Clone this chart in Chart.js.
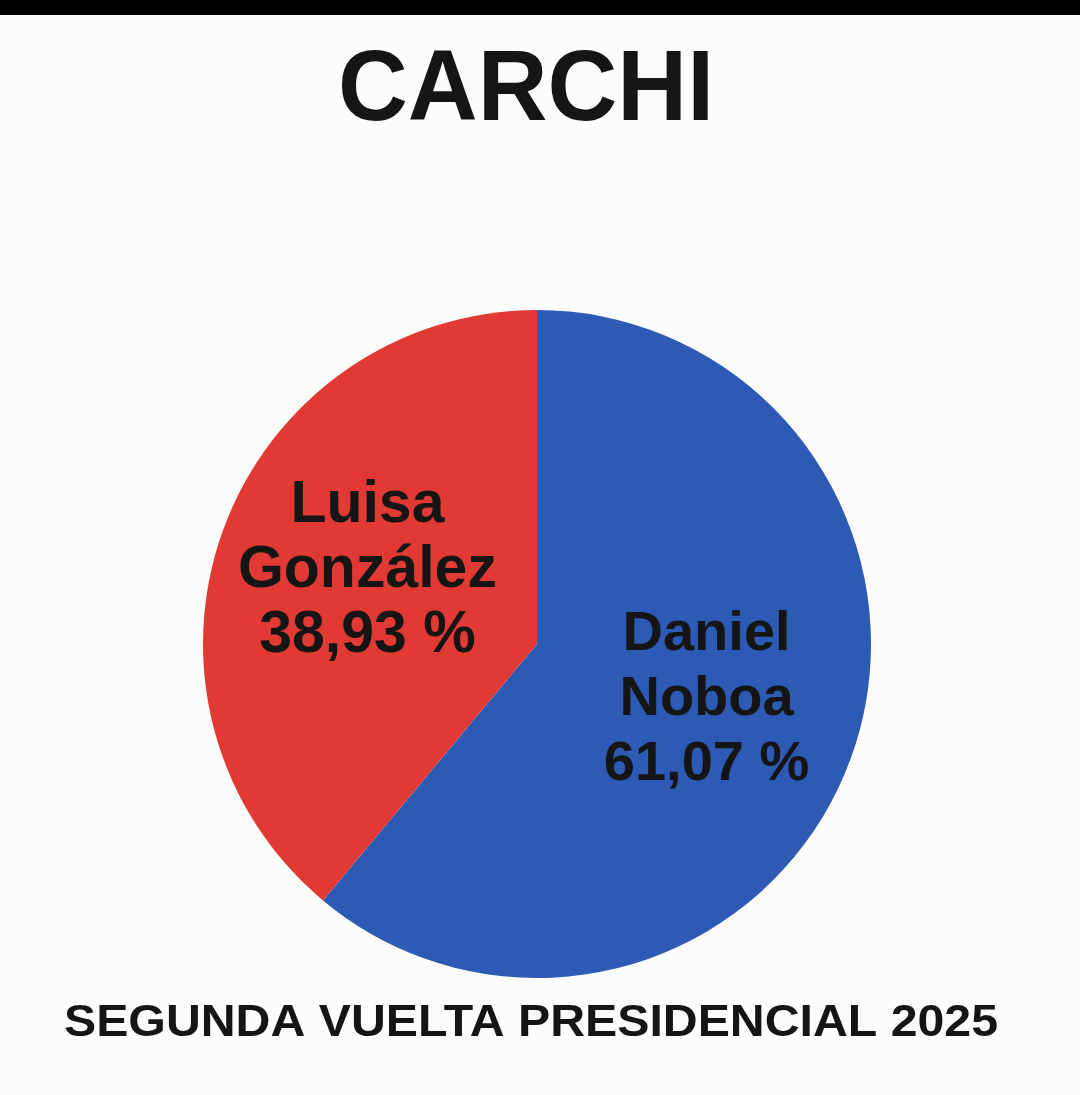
<!DOCTYPE html>
<html>
<head>
<meta charset="utf-8">
<script src="https://cdn.jsdelivr.net/npm/chart.js@4.4.1/dist/chart.umd.min.js"></script>
<style>
  html, body { margin: 0; padding: 0; background: #fcfcfa; }
  #wrap { position: relative; width: 1080px; height: 1095px; }
</style>
</head>
<body>
<div id="wrap"><canvas id="c" width="1080" height="1095"></canvas></div>
<script>
const title = "CARCHI";
const subtitle = "SEGUNDA VUELTA PRESIDENCIAL 2025";
const candidates = ["Daniel Noboa", "Luisa González"];
const labelLines = [["Daniel", "Noboa", "61,07 %"], ["Luisa", "González", "38,93 %"]];
const percentages = [61.07, 38.93];
const sliceColors = ["#2c5ab5", "#e13a34"];

const FONT = "'Liberation Sans', Arial, Helvetica, sans-serif";
const INK = "#151515";

function fitText(ctx, text, cx, baseline, size, targetWidth) {
  ctx.save();
  ctx.font = "bold " + size + "px " + FONT;
  const w = ctx.measureText(text).width;
  const sx = targetWidth ? targetWidth / w : 1;
  ctx.translate(cx, baseline);
  ctx.scale(sx, 1);
  ctx.textAlign = "center";
  ctx.textBaseline = "alphabetic";
  ctx.fillStyle = INK;
  ctx.fillText(text, 0, 0);
  ctx.restore();
}

const decor = {
  id: "decor",
  beforeDraw(chart) {
    const ctx = chart.ctx;
    ctx.save();
    ctx.fillStyle = "#fcfcfa";
    ctx.fillRect(0, 0, chart.width, chart.height);
    ctx.fillStyle = "#000000";
    ctx.fillRect(0, 0, chart.width, 15);
    ctx.restore();
  },
  afterDraw(chart) {
    const ctx = chart.ctx;
    fitText(ctx, title, 526, 120, 100, 376);
    fitText(ctx, subtitle, 531, 1036, 45, 934);
    const meta = chart.getDatasetMeta(0);
    const sizes = [56, 59];
    const shifts = [-11, -17];
    meta.data.forEach((arc, i) => {
      const p = arc.getProps(["startAngle", "endAngle", "outerRadius", "x", "y"], true);
      const mid = (p.startAngle + p.endAngle) / 2;
      const r = p.outerRadius * 0.54;
      const cx = p.x + Math.cos(mid) * r;
      const cy = p.y + Math.sin(mid) * r + shifts[i];
      const lines = labelLines[i];
      const lh = 65;
      const size = sizes[i];
      lines.forEach((t, j) => {
        const base = cy + (j - (lines.length - 1) / 2) * lh + size * 0.36;
        fitText(ctx, t, cx, base, size, null);
      });
    });
  }
};

new Chart(document.getElementById("c"), {
  type: "pie",
  data: {
    labels: candidates,
    datasets: [{
      data: percentages,
      backgroundColor: sliceColors,
      borderWidth: 0,
      hoverOffset: 0
    }]
  },
  options: {
    responsive: false,
    animation: false,
    devicePixelRatio: 1,
    layout: { padding: { top: 310, bottom: 117, left: 203, right: 209 } },
    plugins: {
      legend: { display: false },
      tooltip: { enabled: false },
      title: { display: false }
    }
  },
  plugins: [decor]
});
</script>
</body>
</html>
